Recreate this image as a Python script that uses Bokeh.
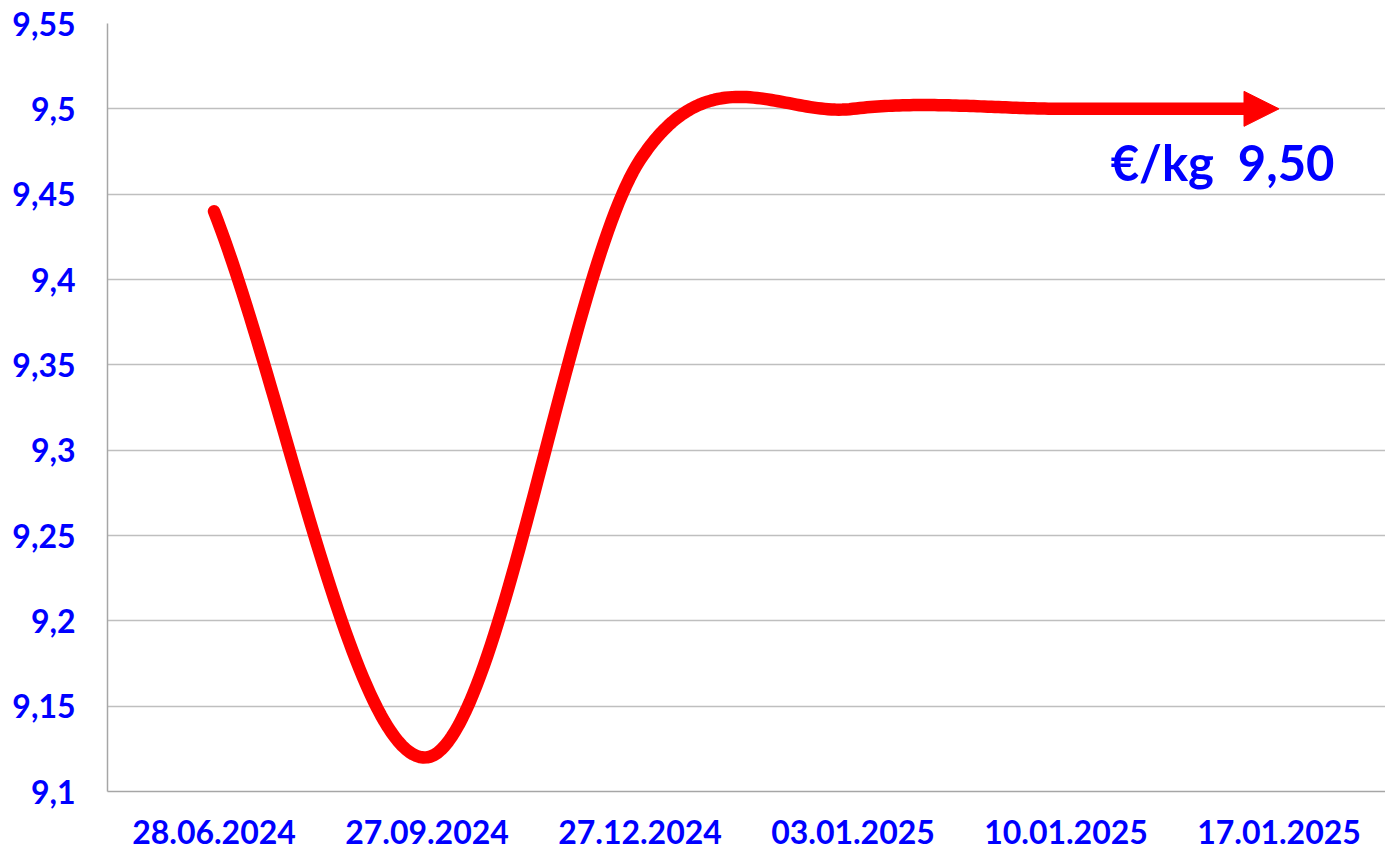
from bokeh.plotting import figure
from bokeh.models import (Range1d, FixedTicker, CustomJSTickFormatter, Label,
                          Arrow, NormalHead)
from bokeh.embed import file_html
from bokeh.resources import INLINE

# ---- data ----
dates = ["28.06.2024", "27.09.2024", "27.12.2024", "03.01.2025", "10.01.2025", "17.01.2025"]
prices = [9.44, 9.12, 9.47, 9.50, 9.50, 9.50]
y_ticks = [9.10, 9.15, 9.20, 9.25, 9.30, 9.35, 9.40, 9.45, 9.50, 9.55]
label_text = "€/kg\u00a0 9,50"

FONT = "Lato"
BLUE = "#0000FF"
RED = "#FF0000"

# category centres on a numeric axis
xc = [i + 0.5 for i in range(len(dates))]

# smoothed curve (Hermite / Catmull-Rom style, as a spreadsheet "smoothed line")
n = len(prices)
tang = []
for i in range(n):
    if i == 0:
        tang.append(prices[1] - prices[0])
    elif i == n - 1:
        tang.append(prices[-1] - prices[-2])
    else:
        tang.append((prices[i + 1] - prices[i - 1]) / 2.0)

W, H = 1385, 852
LEFT, TOP, BOTTOM = 107, 23, 61
p = figure(width=W, height=H, output_backend="svg", toolbar_location=None,
           x_range=Range1d(0, len(dates)), y_range=Range1d(y_ticks[0], y_ticks[-1]),
           min_border_left=LEFT, min_border_right=0, min_border_top=TOP,
           min_border_bottom=BOTTOM)

frame_w = W - LEFT
head_px = 35
cut = xc[-1] - (head_px - 6) / (frame_w / len(dates))


def seg_val(i, t):
    h00 = 2 * t**3 - 3 * t**2 + 1
    h10 = t**3 - 2 * t**2 + t
    h01 = -2 * t**3 + 3 * t**2
    h11 = t**3 - t**2
    return h00 * prices[i] + h10 * tang[i] + h01 * prices[i + 1] + h11 * tang[i + 1]


xs, ys = [], []
steps = 60
for i in range(n - 1):
    for k in range(steps + 1):
        if i > 0 and k == 0:
            continue
        t = k / steps
        x = xc[i] + t
        if x > cut:
            continue
        xs.append(x)
        ys.append(seg_val(i, t))
xs.append(cut)
ys.append(seg_val(n - 2, cut - xc[-2]))

p.line(xs, ys, line_width=12.5, line_color=RED, line_cap="round", line_join="round")

p.add_layout(Arrow(end=NormalHead(size=head_px, fill_color=RED, line_color=RED, line_width=1),
                   x_start=cut - 0.05, y_start=prices[-1], x_end=xc[-1], y_end=prices[-1],
                   line_alpha=0))

p.add_layout(Label(x=5.235, y=prices[-1] - 0.031, text=label_text, text_font=FONT,
                   text_font_style="bold", text_font_size="49px", text_color=BLUE,
                   text_align="center", text_baseline="alphabetic"))

# axes
p.xaxis.ticker = FixedTicker(ticks=xc)
p.xaxis.formatter = CustomJSTickFormatter(args=dict(labels=dates),
                                          code="return labels[Math.floor(tick)];")
p.yaxis.ticker = FixedTicker(ticks=y_ticks)
p.yaxis.formatter = CustomJSTickFormatter(
    code="return parseFloat(tick.toFixed(2)).toString().replace('.', ',');")

for ax in (p.xaxis, p.yaxis):
    ax.major_tick_line_color = None
    ax.minor_tick_line_color = None
    ax.axis_line_color = "#A6A6A6"
    ax.axis_line_width = 1.5
    ax.major_label_text_font = FONT
    ax.major_label_text_font_style = "bold"
    ax.major_label_text_color = BLUE
    ax.major_label_text_font_size = "32px"

p.yaxis.major_label_standoff = 26
p.xaxis.major_label_standoff = 22

p.xgrid.grid_line_color = None
p.ygrid.grid_line_color = "#BFBFBF"
p.ygrid.grid_line_width = 1.3
p.outline_line_color = None
p.background_fill_color = "white"
p.border_fill_color = "white"

open("out.html", "w").write(file_html(p, INLINE))
